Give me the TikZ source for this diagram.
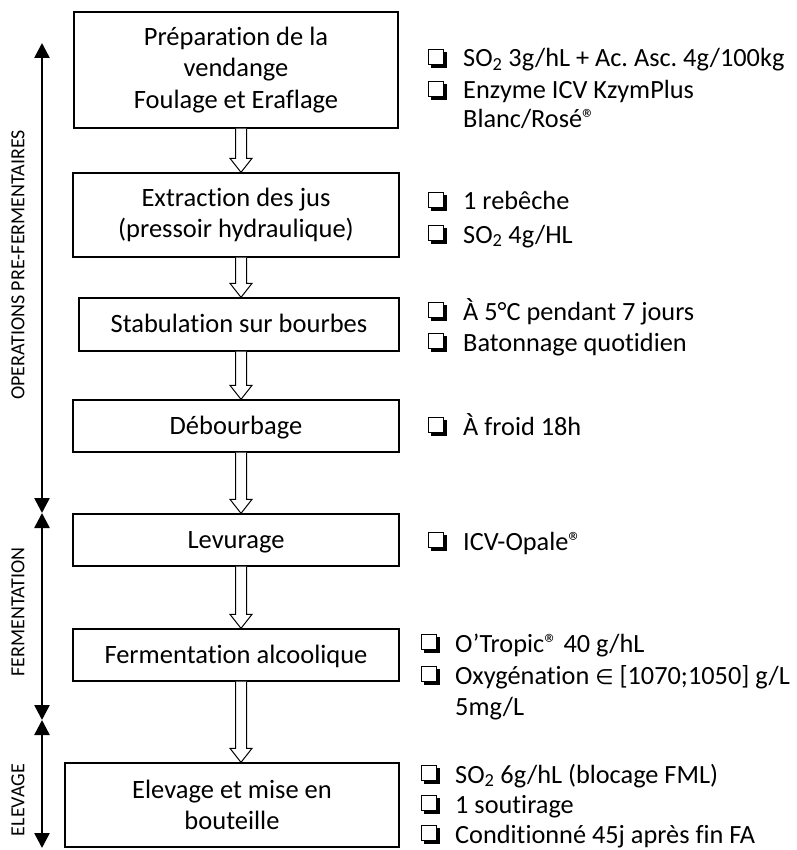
\documentclass[tikz,border=0pt]{standalone}
\usepackage{fontspec}
\setmainfont{Carlito}[Ligatures={NoCommon}]
\newfontfamily\dvfont{DejaVu Sans}
\usetikzlibrary{arrows.meta,calc}
\newcommand\SOtwo{SO\textsubscript{2}}
\frenchspacing
\begin{document}
\begin{tikzpicture}[x=1pt,y=-1pt,
  stepbox/.style={draw,line width=1.3pt,align=center,inner sep=0pt,font=\fontsize{26.5}{31.5}\selectfont},
  onelinebox/.style={stepbox,text height=20pt,text depth=4pt},
  notetext/.style={anchor=base west,inner sep=0pt,font=\fontsize{26.3}{30}\selectfont},
  phase/.style={line width=2.6pt,{Triangle[width=15pt,length=15pt]}-{Triangle[width=15pt,length=15pt]}},
  phaselabel/.style={rotate=90,font=\fontsize{20}{21}\selectfont,inner sep=0pt},
  barrow/.style={draw,line width=1pt,fill=white},
  cb/.pic={
    \draw[line width=1.2pt] (0.6,-17.4) rectangle (15.4,-2.6);
    \fill (3,-2) rectangle (19,1);
    \fill (16,-15) rectangle (19,1);
  }]
\useasboundingbox (0,0) rectangle (796,850);
\coordinate (ax) at (241,0);

% process boxes
\node[stepbox,minimum width=324pt,minimum height=116pt] (b1) at (236,70) {Préparation de la\\vendange\\Foulage et Eraflage};
\node[stepbox,minimum width=326pt,minimum height=84pt] (b2) at (236,215) {Extraction des jus\\(pressoir hydraulique)};
\node[onelinebox,minimum width=320pt,minimum height=53pt] (b3) at (239,324.5) {Stabulation sur bourbes};
\node[onelinebox,minimum width=326pt,minimum height=52pt] (b4) at (236,426) {Débourbage};
\node[onelinebox,minimum width=326pt,minimum height=52pt] (b5) at (236,540) {Levurage};
\node[onelinebox,minimum width=326pt,minimum height=52pt] (b6) at (236,655) {Fermentation alcoolique};
\node[stepbox,minimum width=334pt,minimum height=84pt] (b7) at (232,805) {Elevage et mise en\\bouteille};

% block arrows
\newcommand\blockarr[2]{%
  \draw[barrow] let \p1=(#1.south -| ax), \p2=(#2.north -| ax) in
    (\x1-5.5pt,\y1) -- (\x1-5.5pt,\y2+14pt) -- (\x1-11pt,\y2+14pt) -- (\x1,\y2)
    -- (\x1+11pt,\y2+14pt) -- (\x1+5.5pt,\y2+14pt) -- (\x1+5.5pt,\y1);}
\blockarr{b1}{b2}
\blockarr{b2}{b3}
\blockarr{b3}{b4}
\blockarr{b4}{b5}
\blockarr{b5}{b6}
\blockarr{b6}{b7}

% phase arrows
\coordinate (t0) at (42,43);
\coordinate (t1) at (42,513);
\coordinate (t2) at (42,720);
\coordinate (t3) at (42,848);
\draw[phase] (t0) -- (t1);
\draw[phase] (t1) -- (t2);
\draw[phase] (t2) -- (t3);
\node[phaselabel] (l1) at (18,265) {OPERATIONS PRE-FERMENTAIRES};
\node[phaselabel] (l2) at (18,612) {FERMENTATION};
\node[phaselabel] (l3) at (18,800) {ELEVAGE};

% notes
\pic at (428,67) {cb};
\node[notetext] (n11) at (463,67) {\SOtwo{} 3g/hL + Ac. Asc. 4g/100kg};
\pic at (428,99) {cb};
\node[notetext] (n12) at (463,99) {Enzyme ICV KzymPlus};
\node[notetext] (n13) at (463,128) {Blanc/Rosé®};

\pic at (428,210) {cb};
\node[notetext] (n21) at (463,210) {1 rebêche};
\pic at (428,243) {cb};
\node[notetext] (n22) at (463,243) {\SOtwo{} 4g/HL};

\pic at (428,320) {cb};
\node[notetext] (n31) at (463,320) {À 5°C pendant 7 jours};
\pic at (428,351) {cb};
\node[notetext] (n32) at (463,351) {Batonnage quotidien};

\pic at (428,435) {cb};
\node[notetext] (n41) at (463,435) {À froid 18h};

\pic at (428,550) {cb};
\node[notetext] (n51) at (463,550) {ICV-Opale®};

\pic at (421,652) {cb};
\node[notetext] (n61) at (455,652) {O’Tropic® 40 g/hL};
\pic at (421,684) {cb};
\node[notetext] (n62) at (455,684) {Oxygénation {\dvfont\fontsize{21}{25}\selectfont ∈} [1070;1050] g/L};
\node[notetext] (n63) at (455,715) {5mg/L};

\pic at (421,783) {cb};
\node[notetext] (n71) at (455,783) {\SOtwo{} 6g/hL (blocage FML)};
\pic at (421,813) {cb};
\node[notetext] (n72) at (455,813) {1 soutirage};
\pic at (421,843) {cb};
\node[notetext] (n73) at (455,843) {Conditionné 45j après fin FA};
\end{tikzpicture}
\end{document}
